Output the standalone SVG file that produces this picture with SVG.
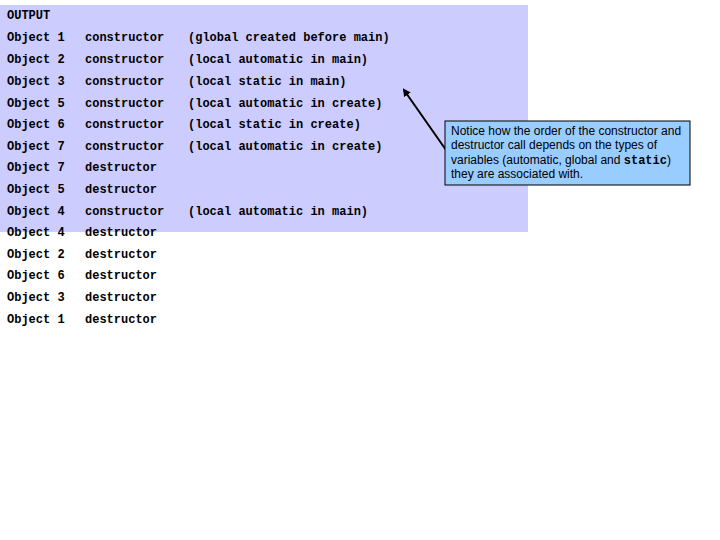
<svg xmlns="http://www.w3.org/2000/svg" width="720" height="540" viewBox="0 0 720 540">
<style>
.m{font-family:"Liberation Mono","Courier New",monospace;font-size:12px;font-weight:bold;fill:#000}
.n{font-family:"Liberation Sans",Arial,sans-serif;font-size:12px;fill:#000}
</style>
<defs><marker id="ah" markerWidth="8" markerHeight="8" refX="6" refY="4" orient="auto" markerUnits="userSpaceOnUse"><path d="M0,0L8,4L0,8z" fill="#000"/></marker></defs>
<rect width="720" height="540" fill="#fff"/>
<g id="output">
<rect x="0" y="5" width="528" height="227" fill="#ccccff"/>
<text class="m" x="7" y="19">OUTPUT</text>
<g class="m">
<text class="m" x="7" y="41">Object 1</text><text class="m" x="85" y="41">constructor</text><text class="m" x="188" y="41">(global created before main)</text>
<text class="m" x="7" y="63">Object 2</text><text class="m" x="85" y="63">constructor</text><text class="m" x="188" y="63">(local automatic in main)</text>
<text class="m" x="7" y="85">Object 3</text><text class="m" x="85" y="85">constructor</text><text class="m" x="188" y="85">(local static in main)</text>
<text class="m" x="7" y="107">Object 5</text><text class="m" x="85" y="107">constructor</text><text class="m" x="188" y="107">(local automatic in create)</text>
<text class="m" x="7" y="128">Object 6</text><text class="m" x="85" y="128">constructor</text><text class="m" x="188" y="128">(local static in create)</text>
<text class="m" x="7" y="150">Object 7</text><text class="m" x="85" y="150">constructor</text><text class="m" x="188" y="150">(local automatic in create)</text>
<text class="m" x="7" y="171">Object 7</text><text class="m" x="85" y="171">destructor</text>
<text class="m" x="7" y="193">Object 5</text><text class="m" x="85" y="193">destructor</text>
<text class="m" x="7" y="215">Object 4</text><text class="m" x="85" y="215">constructor</text><text class="m" x="188" y="215">(local automatic in main)</text>
<text class="m" x="7" y="236">Object 4</text><text class="m" x="85" y="236">destructor</text>
<text class="m" x="7" y="258">Object 2</text><text class="m" x="85" y="258">destructor</text>
<text class="m" x="7" y="279">Object 6</text><text class="m" x="85" y="279">destructor</text>
<text class="m" x="7" y="301">Object 3</text><text class="m" x="85" y="301">destructor</text>
<text class="m" x="7" y="323">Object 1</text><text class="m" x="85" y="323">destructor</text>
</g>
</g>
<g id="connectors">
<line x1="446" y1="150" x2="404" y2="90" stroke="#000" stroke-width="2" marker-end="url(#ah)"/>
</g>
<g id="note">
<rect x="445" y="121" width="245" height="64" fill="#99ccff" stroke="#000" stroke-width="1"/>
<text class="n" x="451" y="135">Notice how the order of the constructor and</text>
<text class="n" x="451" y="149">destructor call depends on the types of</text>
<text class="n" x="451" y="164">variables (automatic, global and <tspan font-family="Liberation Mono,monospace" font-weight="bold">static</tspan>)</text>
<text class="n" x="451" y="178">they are associated with.</text>
</g>
</svg>
